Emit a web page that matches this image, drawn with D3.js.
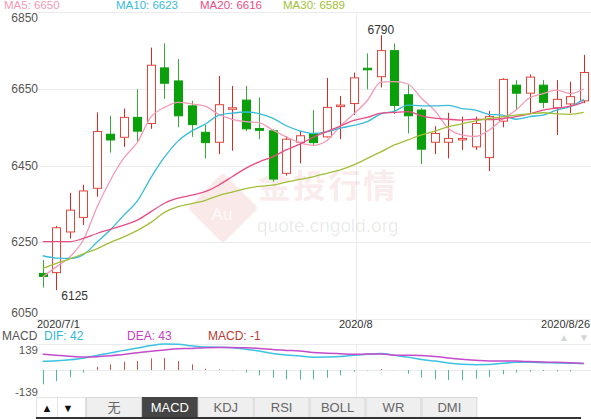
<!DOCTYPE html>
<html>
<head>
<meta charset="utf-8">
<script src="https://cdn.jsdelivr.net/npm/d3@7/dist/d3.min.js"></script>
<style>
  body { margin: 0; background: #fff; }
  svg { display: block; font-family: Arial, "Liberation Sans", "Noto Sans CJK SC", sans-serif; }
</style>
</head>
<body>
<svg id="chart" width="591" height="419"></svg>
<script>
// trading days shown
var dates = ["2020/7/1","2020/7/2","2020/7/3","2020/7/6","2020/7/7","2020/7/8","2020/7/9","2020/7/10",
  "2020/7/13","2020/7/14","2020/7/15","2020/7/16","2020/7/17","2020/7/20","2020/7/21","2020/7/22",
  "2020/7/23","2020/7/24","2020/7/27","2020/7/28","2020/7/29","2020/7/30","2020/7/31",
  "2020/8/3","2020/8/4","2020/8/5","2020/8/6","2020/8/7","2020/8/10","2020/8/11","2020/8/12",
  "2020/8/13","2020/8/14","2020/8/17","2020/8/18","2020/8/19","2020/8/20","2020/8/21",
  "2020/8/24","2020/8/25","2020/8/26"];

var open  = [6169,6171,6277,6315,6391,6532,6524,6576,6560,6705,6671,6606,6537,6511,6598,6621,6547,6541,6430,6511,
             6534,6525,6606,6612,6704,6682,6750,6635,6595,6511,6511,6519,6499,6471,6566,6660,6639,6660,6601,6611,6619];
var high  = [6204,6293,6379,6400,6589,6580,6599,6649,6758,6769,6728,6619,6556,6684,6658,6658,6628,6545,6527,6541,
             6595,6679,6632,6693,6743,6790,6769,6660,6600,6553,6588,6578,6578,6593,6678,6673,6688,6673,6673,6669,6739];
var low   = [6132,6125,6260,6295,6369,6484,6499,6510,6546,6624,6550,6525,6469,6480,6489,6540,6519,6408,6424,6456,
             6504,6523,6519,6582,6649,6654,6585,6534,6454,6480,6469,6491,6491,6436,6550,6595,6588,6600,6530,6587,6613];
var close = [6161,6288,6334,6384,6539,6517,6576,6540,6712,6665,6580,6557,6510,6609,6601,6546,6542,6415,6519,6528,
             6510,6602,6608,6679,6700,6750,6607,6580,6493,6534,6521,6521,6560,6578,6675,6639,6681,6615,6623,6630,6693];

var ma5  = [6160,6186,6212,6256,6341,6412,6470,6511,6577,6602,6615,6611,6605,6584,6571,6565,6562,6543,6525,6510,
            6503,6515,6553,6585,6620,6668,6669,6663,6626,6593,6547,6530,6526,6543,6571,6595,6627,6638,6647,6638,6650];
var ma10 = [6215,6209,6208,6218,6250,6283,6321,6358,6419,6472,6514,6540,6558,6581,6587,6590,6586,6574,6554,6541,
            6534,6538,6548,6555,6565,6585,6592,6608,6606,6606,6607,6599,6595,6584,6582,6571,6578,6582,6595,6604,6623];
var ma20 = [6252,6252,6252,6260,6273,6284,6295,6308,6330,6352,6365,6373,6382,6399,6421,6443,6460,6473,6491,6506,
            6524,6539,6553,6568,6576,6587,6589,6591,6580,6574,6571,6569,6571,6570,6573,6578,6585,6595,6600,6605,6616];
var ma30 = [6182,6195,6207,6220,6233,6250,6264,6281,6302,6328,6343,6351,6359,6372,6381,6390,6396,6399,6407,6414,
            6421,6430,6439,6452,6469,6486,6504,6517,6530,6540,6552,6559,6567,6573,6578,6582,6585,6588,6585,6584,6589];

var dif  = [57,61,67,77,95,111,128,143,160,170,168,158,150,149,146,136,124,108,98,92,
            84,85,88,96,103,108,96,84,69,58,46,38,35,36,44,50,50,48,46,44,42];
var dea  = [104,97,90,85,87,93,101,113,122,131,139,140,146,147,147,145,141,133,128,124,
            115,110,106,102,104,105,97,96,94,88,78,70,64,59,58,58,55,52,50,47,43];
var macd = [-94,-72,-46,-17,20,37,54,59,76,78,59,37,9,4,-2,-17,-35,-50,-61,-63,
            -61,-50,-35,-11,-3,5,-2,-24,-50,-61,-65,-65,-57,-46,-28,-17,-11,-7,-9,-9,-1];

var priceTicks = [6050, 6250, 6450, 6650, 6850];
var macdTicks = [139, -139];
var dateTicks = ["2020/7/1", "2020/8/3", "2020/8/26"];
var dateTickLabels = ["2020/7/1", "2020/8", "2020/8/26"];
var tabs = ["无", "MACD", "KDJ", "RSI", "BOLL", "WR", "DMI"];

var maNames = ["MA5", "MA10", "MA20", "MA30"];
var maColors = ["#f49ab6", "#35bcdb", "#e84c85", "#a1bf38"];
var maSeries = [ma5, ma10, ma20, ma30];

var svg = d3.select("#chart");

var x = d3.scaleBand().domain(dates).range([36, 590.5]);
var cx = function (i) { return x(dates[i]) + x.bandwidth() / 2; };
var y = d3.scaleLinear().domain([6050, 6850]).range([319, 12.3]);
var ym = d3.scaleLinear().domain([-139, 139]).range([391.3, 348.7]);

// grid
var grid = svg.append("g");
grid.selectAll("line.h").data(priceTicks).enter().append("line")
  .attr("x1", 36).attr("x2", 591)
  .attr("y1", function (d) { return Math.round(y(d)) + 0.5; })
  .attr("y2", function (d) { return Math.round(y(d)) + 0.5; })
  .attr("stroke", "#ebebeb");
var vx = Math.round(cx(dates.indexOf("2020/8/3")) + 2) + 0.5;
grid.append("line").attr("x1", vx).attr("x2", vx).attr("y1", 12).attr("y2", 319).attr("stroke", "#ebebeb");
grid.append("line").attr("x1", vx).attr("x2", vx).attr("y1", 344).attr("y2", 397).attr("stroke", "#ebebeb");
grid.append("line").attr("x1", 36).attr("x2", 591).attr("y1", 344.5).attr("y2", 344.5).attr("stroke", "#ebebeb");
grid.append("line").attr("x1", 40).attr("x2", 591)
  .attr("y1", Math.round(ym(0)) + 0.5).attr("y2", Math.round(ym(0)) + 0.5).attr("stroke", "#ebebeb");

// watermark
var wm = svg.append("g");
wm.append("rect").attr("x", -25).attr("y", -25).attr("width", 50).attr("height", 50).attr("rx", 4)
  .attr("transform", "translate(223,208) rotate(45)")
  .attr("fill", "rgba(225,120,120,0.16)");
wm.append("text").attr("x", 222).attr("y", 220).attr("text-anchor", "middle")
  .attr("font-size", 17).attr("fill", "rgba(255,255,255,0.8)").text("Au");
wm.append("text").attr("x", 258).attr("y", 198)
  .attr("font-size", 33).attr("font-weight", "bold").attr("letter-spacing", 2)
  .attr("fill", "rgba(215,110,110,0.14)").text("金投行情");
wm.append("text").attr("x", 257).attr("y", 232)
  .attr("font-size", 19).attr("fill", "rgba(0,0,0,0.09)").text("quote.cngold.org");

// y labels
svg.append("g").selectAll("text").data(priceTicks).enter().append("text")
  .attr("x", 38).attr("text-anchor", "end").attr("font-size", 12).attr("fill", "#555")
  .attr("y", function (d) { return Math.max(17.5, Math.min(313, y(d))) + 4; })
  .text(function (d) { return d; });

// candles
var idx = d3.range(dates.length);
var cg = svg.append("g");
var candle = cg.selectAll("g").data(idx).enter().append("g");
candle.append("line")
  .attr("x1", function (i) { return Math.round(cx(i)) + 0.5; })
  .attr("x2", function (i) { return Math.round(cx(i)) + 0.5; })
  .attr("y1", function (i) { return y(high[i]); })
  .attr("y2", function (i) { return y(low[i]); })
  .attr("stroke", function (i) { return close[i] >= open[i] ? "#d42a22" : "#3aa83a"; })
  .attr("stroke-width", 1);
candle.append("rect")
  .attr("x", function (i) { return Math.round(cx(i)) - 4 + 0.5; })
  .attr("width", 8)
  .attr("y", function (i) { return y(Math.max(open[i], close[i])); })
  .attr("height", function (i) { return Math.max(1.5, Math.abs(y(open[i]) - y(close[i]))); })
  .attr("fill", function (i) { return close[i] >= open[i] ? "#fff" : "#0aa00a"; })
  .attr("stroke", function (i) { return close[i] >= open[i] ? "#e0463d" : "#0aa00a"; })
  .attr("stroke-width", 1);

// MA lines
var lg = svg.append("g").attr("fill", "none");
maSeries.forEach(function (s, k) {
  lg.append("path")
    .attr("d", d3.line().x(function (d, i) { return cx(i); }).y(function (d) { return y(d); })
      .curve(d3.curveMonotoneX)(s))
    .attr("stroke", maColors[k]).attr("stroke-width", 1.3);
});

// high / low annotations
var hiIdx = d3.maxIndex(high), loIdx = d3.minIndex(low);
svg.append("text").attr("x", cx(hiIdx)).attr("y", 34).attr("text-anchor", "middle")
  .attr("font-size", 12).attr("fill", "#333").text(high[hiIdx]);
svg.append("text").attr("x", cx(loIdx) + 5).attr("y", 300)
  .attr("font-size", 12).attr("fill", "#333").text(low[loIdx]);

// MA legend
var legX = [4, 116, 200, 283];
svg.append("g").selectAll("text").data(maNames).enter().append("text")
  .attr("x", function (d, k) { return legX[k]; }).attr("y", 9)
  .attr("font-size", 11.5).attr("fill", function (d, k) { return maColors[k]; })
  .text(function (d, k) { return d + ": " + maSeries[k][maSeries[k].length - 1]; });

// date labels
var dl = svg.append("g").attr("font-size", 11).attr("fill", "#333");
dateTicks.forEach(function (d, k) {
  var i = dates.indexOf(d);
  var t = dl.append("text").attr("y", 328).text(dateTickLabels[k]);
  if (k === 0) t.attr("x", 37);
  else if (k === dateTicks.length - 1) t.attr("x", 590).attr("text-anchor", "end");
  else t.attr("x", cx(i) + 2).attr("text-anchor", "middle");
});

// MACD panel
var last = dates.length - 1;
var ml = svg.append("g").attr("font-size", 12);
ml.append("text").attr("x", 2).attr("y", 340).attr("fill", "#555").text("MACD");
ml.append("text").attr("x", 44).attr("y", 340).attr("fill", "#2fb8d8").text("DIF: " + dif[last]);
ml.append("text").attr("x", 127).attr("y", 340).attr("fill", "#c23fc6").text("DEA: " + dea[last]);
ml.append("text").attr("x", 208).attr("y", 340).attr("fill", "#b83a32").text("MACD: " + macd[last]);
ml.append("text").attr("x", 564).attr("y", 341).attr("text-anchor", "middle").attr("font-size", 10).attr("fill", "#d4d4d4").text("▲");
ml.append("text").attr("x", 584).attr("y", 341).attr("text-anchor", "middle").attr("font-size", 10).attr("fill", "#d4d4d4").text("▼");

svg.append("g").selectAll("text").data(macdTicks).enter().append("text")
  .attr("x", 38).attr("text-anchor", "end").attr("font-size", 11.5).attr("fill", "#555")
  .attr("y", function (d) { return ym(d) + 5; })
  .text(function (d) { return d; });

svg.append("g").selectAll("line").data(idx).enter().append("line")
  .attr("x1", function (i) { return Math.round(cx(i)) + 0.5; })
  .attr("x2", function (i) { return Math.round(cx(i)) + 0.5; })
  .attr("y1", ym(0))
  .attr("y2", function (i) { return ym(macd[i]); })
  .attr("stroke", function (i) { return macd[i] >= 0 ? "#c0574c" : "#4fb992"; })
  .attr("stroke-width", 1);

[[dif, "#3cc2e2"], [dea, "#c44bcb"]].forEach(function (p) {
  svg.append("path")
    .attr("d", d3.line().x(function (d, i) { return cx(i); }).y(function (d) { return ym(d); })
      .curve(d3.curveMonotoneX)(p[0]))
    .attr("fill", "none").attr("stroke", p[1]).attr("stroke-width", 1.5);
});

// bottom tab bar
var tb = svg.append("g");
tb.append("rect").attr("x", 36.5).attr("y", 397.5).attr("width", 49).attr("height", 20)
  .attr("fill", "#fff").attr("stroke", "#e3e3e3");
tb.append("line").attr("x1", 57.5).attr("x2", 57.5).attr("y1", 398).attr("y2", 417).attr("stroke", "#e3e3e3");
tb.append("text").attr("x", 47).attr("y", 412).attr("text-anchor", "middle").attr("font-size", 11).attr("fill", "#111").text("▲");
tb.append("text").attr("x", 68).attr("y", 412).attr("text-anchor", "middle").attr("font-size", 11).attr("fill", "#111").text("▼");
var tabW = 55.9;
var tab = tb.selectAll("g.tab").data(tabs).enter().append("g")
  .attr("transform", function (d, k) { return "translate(" + (86 + k * tabW) + ",397)"; });
tab.append("rect").attr("x", 0.5).attr("y", 0.5).attr("width", tabW - 1).attr("height", 20)
  .attr("fill", function (d) { return d === "MACD" ? "#454545" : "#efefef"; })
  .attr("stroke", function (d) { return d === "MACD" ? "#454545" : "#d8d8d8"; });
tab.append("text").attr("x", tabW / 2).attr("y", 15).attr("text-anchor", "middle")
  .attr("font-size", 13)
  .attr("fill", function (d) { return d === "MACD" ? "#fff" : "#666"; })
  .text(function (d) { return d; });
tb.append("rect").attr("x", 36).attr("y", 417).attr("width", 545).attr("height", 2).attr("fill", "#333");
</script>
</body>
</html>
